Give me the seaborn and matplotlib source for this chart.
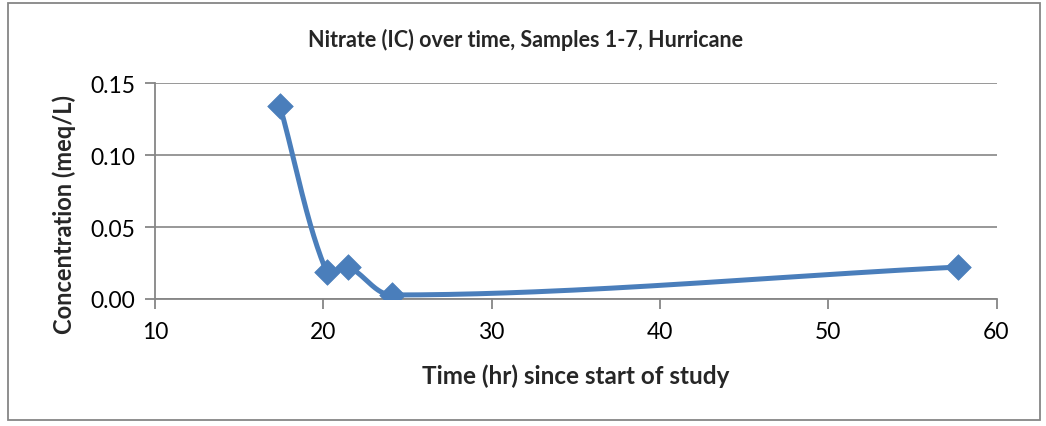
import numpy as np
import pandas as pd
import matplotlib
matplotlib.use("Agg")
import matplotlib.pyplot as plt
import seaborn as sns
from matplotlib.patches import Rectangle

# Data
time_hr = [17.43, 20.2, 21.47, 24.08, 57.7]
nitrate = [0.134, 0.0188, 0.0222, 0.0028, 0.0222]
title = "Nitrate (IC) over time, Samples 1-7, Hurricane"
xlabel = "Time (hr) since start of study"
ylabel = "Concentration (meq/L)"
xticks = [10, 20, 30, 40, 50, 60]
yticks = [0.00, 0.05, 0.10, 0.15]

sns.set_theme(style="white")
plt.rcParams['font.family'] = ['Lato', 'DejaVu Sans']

BLUE = "#4A7EBB"
GRAY = "#868686"

# axes geometry in pixels
X0, X1, YT, YB = 155, 996.5, 84.3, 300
XMIN, XMAX, YMIN, YMAX = 10, 60, 0, 0.15
sxp = (X1 - X0) / (XMAX - XMIN)
syp = (YB - YT) / (YMAX - YMIN)


def smooth(xs, ys, n=60):
    # Excel-like smoothed line: Bezier segments with chord-length-scaled tangents (pixel space)
    P = np.column_stack([np.asarray(xs) * sxp, np.asarray(ys) * syp]).astype(float)
    P = np.vstack([P[0], P, P[-1]])
    out = []
    for i in range(1, len(P) - 2):
        p0, p3 = P[i], P[i + 1]
        L = np.linalg.norm(p3 - p0)
        Lp = np.linalg.norm(P[i] - P[i - 1])
        Ln = np.linalg.norm(P[i + 2] - P[i + 1])
        d0 = P[i + 1] - P[i - 1]
        d1 = P[i + 2] - P[i]
        c1 = p0 + d0 * (L / (L + Lp)) / 3.0 if (L + Lp) > 0 else p0
        c2 = p3 - d1 * (L / (L + Ln)) / 3.0 if (L + Ln) > 0 else p3
        t = np.linspace(0, 1, n)[:, None]
        seg = ((1 - t) ** 3) * p0 + 3 * ((1 - t) ** 2) * t * c1 + 3 * (1 - t) * t ** 2 * c2 + t ** 3 * p3
        out.append(seg if i == 1 else seg[1:])
    out = np.vstack(out)
    return out[:, 0] / sxp, out[:, 1] / syp

sx, sy = smooth(time_hr, nitrate)
curve = pd.DataFrame({"x": sx, "y": sy})
pts = pd.DataFrame({"x": time_hr, "y": nitrate})

fig = plt.figure(figsize=(10.46, 4.27), dpi=100)
ax = fig.add_axes([X0 / 1046, 1 - YB / 427, (X1 - X0) / 1046, (YB - YT) / 427])

sns.lineplot(data=curve, x="x", y="y", sort=False, estimator=None, ax=ax,
             color=BLUE, linewidth=3.6, zorder=3)
sns.scatterplot(data=pts, x="x", y="y", ax=ax, marker="D", s=170,
                color=BLUE, edgecolor=BLUE, linewidth=0.5, zorder=4)

ax.set_xlim(XMIN, XMAX)
ax.set_ylim(YMIN, YMAX)
ax.set_xticks(xticks)
ax.set_yticks(yticks)
ax.set_yticklabels([f"{v:.2f}" for v in yticks])
ax.yaxis.grid(True, color=GRAY, linewidth=1.2)
ax.xaxis.grid(False)
for side in ["top", "right"]:
    ax.spines[side].set_visible(False)
for side in ["left", "bottom"]:
    ax.spines[side].set_color(GRAY)
    ax.spines[side].set_linewidth(1.3)
ax.tick_params(axis="both", which="major", direction="out", length=7, width=1.3,
               color=GRAY, labelsize=16.5, labelcolor="black", pad=7, bottom=True, left=True)
ax.tick_params(axis="x", pad=9)
ax.set_xlabel("")
ax.set_ylabel("")
ax.set_axisbelow(True)

fig.text(576 / 1046, 1 - 376 / 427, xlabel, ha="center", va="center",
         fontsize=17.5, fontweight="bold")
fig.text(64 / 1046, 1 - 215 / 427, ylabel, ha="center", va="center", rotation=90,
         fontsize=17, fontweight="bold")
fig.text(525 / 1046, 1 - 40 / 427, title, ha="center", va="center",
         fontsize=15.5, fontweight="bold")

fig.patches.append(Rectangle((8 / 1046, 1 - 421 / 427), (1040 - 8) / 1046, (421 - 4) / 427,
                             transform=fig.transFigure, fill=False, edgecolor=GRAY, linewidth=1.3))

fig.savefig("out.png", dpi=100)
